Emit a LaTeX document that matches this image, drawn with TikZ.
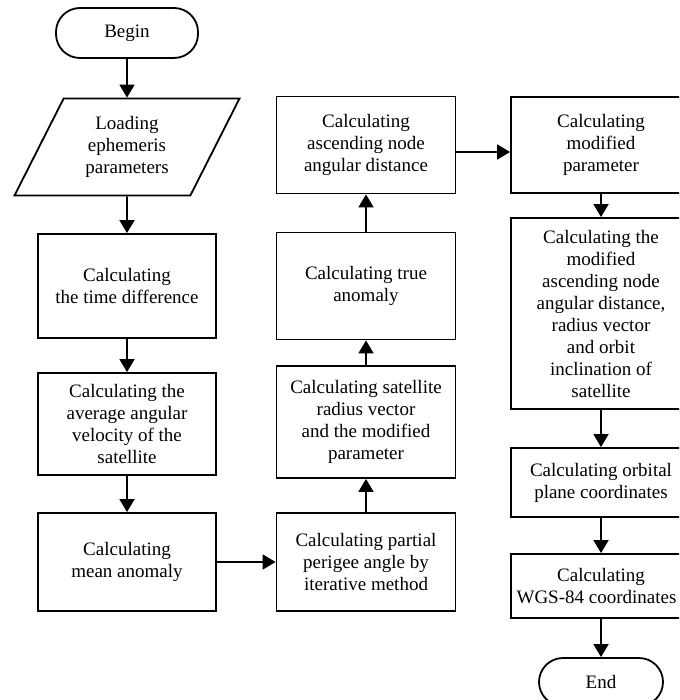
\documentclass[tikz,border=0pt]{standalone}
\usepackage{fontspec}
\setmainfont{Liberation Serif}
\usetikzlibrary{shapes.geometric, arrows.meta, positioning, calc}

\begin{document}
\begin{tikzpicture}[x=1pt, y=-1pt,
    calcbox/.style={draw, line width=1.8pt, align=center, inner sep=2pt, font=\fontsize{19}{22}\selectfont},
    termbox/.style={calcbox, rounded corners=24pt},
    iobox/.style={calcbox, trapezium, trapezium left angle=53, trapezium right angle=127, trapezium stretches body},
    flowarrow/.style={-{Triangle[length=13pt, width=15pt]}, line width=1.8pt}]
        \useasboundingbox (0,0) rectangle (679,700);
        \clip (0,0) rectangle (679,700);

        % Left column
        \node[termbox, minimum width=142pt, minimum height=50pt] (begin) at (127,33) {Begin};
        \node[iobox, minimum width=225pt, minimum height=97pt] (load) at (127,147) {Loading\\ephemeris\\parameters};
        \node[calcbox, minimum width=178pt, minimum height=104pt] (tdiff) at (127,286) {Calculating\\the time difference};
        \node[calcbox, minimum width=178pt, minimum height=102pt] (avel) at (127,424) {Calculating the\\average angular\\velocity of the\\satellite};
        \node[calcbox, minimum width=178pt, minimum height=98pt] (mean) at (127,562) {Calculating\\mean anomaly};

        % Middle column
        \node[calcbox, minimum width=179pt, minimum height=98pt] (perig) at (366,562) {Calculating partial\\perigee angle by\\iterative method};
        \node[calcbox, minimum width=179pt, minimum height=112pt] (radvec) at (366,422) {Calculating satellite\\radius vector\\and the modified\\parameter};
        \node[calcbox, minimum width=179pt, minimum height=107pt] (trueanom) at (366,286) {Calculating true\\anomaly};
        \node[calcbox, minimum width=179pt, minimum height=97pt] (ascnode) at (366,145) {Calculating\\ascending node\\angular distance};

        % Right column
        \node[calcbox, minimum width=180pt, minimum height=96pt] (modpar) at (601,145) {Calculating\\modified\\parameter};
        \node[calcbox, minimum width=180pt, minimum height=191pt] (modnode) at (601,313.5) {Calculating the\\modified\\ascending node\\angular distance,\\radius vector\\and orbit\\inclination of\\satellite};
        \node[calcbox, minimum width=180pt, minimum height=69pt] (orbit) at (601,482.5) {Calculating orbital\\plane coordinates};
        \node[calcbox, minimum width=180pt, minimum height=64pt] (wgs) at (601,586) {Calculating\\WGS-84 coordinates\hspace*{9pt}};
        \node[termbox, minimum width=124pt, minimum height=48pt] (stop) at (601,682) {End};

        % Arrows
        \draw[flowarrow] (begin.south) -- (load.north);
        \draw[flowarrow] (load.south) -- (tdiff.north);
        \draw[flowarrow] (tdiff.south) -- (avel.north);
        \draw[flowarrow] (avel.south) -- (mean.north);
        \draw[flowarrow] (mean.east) -- (perig.west);
        \draw[flowarrow] (perig.north) -- (radvec.south);
        \draw[flowarrow] (radvec.north) -- (trueanom.south);
        \draw[flowarrow] (trueanom.north) -- (ascnode.south);
        \draw[flowarrow] ([yshift=-7pt]ascnode.east) -- ([yshift=-7pt]ascnode.east -| modpar.west);
        \draw[flowarrow] (modpar.south) -- (modnode.north);
        \draw[flowarrow] (modnode.south) -- (orbit.north);
        \draw[flowarrow] (orbit.south) -- (wgs.north);
        \draw[flowarrow] (wgs.south) -- (stop.north);
    \end{tikzpicture}
\end{document}
